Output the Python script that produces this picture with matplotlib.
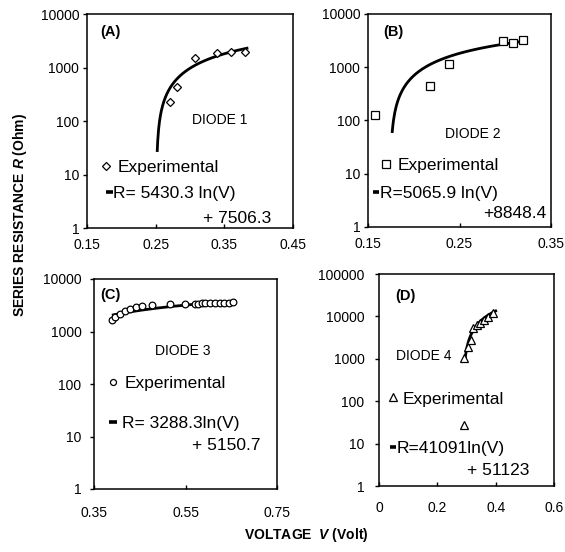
import numpy as np
import matplotlib
matplotlib.use("Agg")
import matplotlib.pyplot as plt
from matplotlib.lines import Line2D

plt.rcParams["font.family"] = ["Liberation Sans", "DejaVu Sans"]
plt.rcParams["mathtext.fontset"] = "custom"
plt.rcParams["mathtext.it"] = "Liberation Sans:italic:bold"
plt.rcParams["mathtext.rm"] = "Liberation Sans:bold"

# measured series resistance vs forward voltage, one set per diode
a_volt = [0.271, 0.281, 0.307, 0.339, 0.360, 0.380]
a_res = [230, 430, 1520, 1900, 1950, 1950]

b_volt = [0.158, 0.218, 0.238, 0.298, 0.308, 0.319]
b_res = [125, 450, 1150, 3150, 2900, 3250]

c_volt = [0.389, 0.396, 0.407, 0.418, 0.429, 0.442, 0.456, 0.476, 0.516, 0.549,
          0.571, 0.578, 0.585, 0.593, 0.604, 0.614, 0.625, 0.634, 0.644, 0.653]
c_res = [1650, 1900, 2150, 2450, 2700, 2900, 3050, 3150, 3300, 3350,
         3400, 3400, 3450, 3450, 3450, 3500, 3500, 3550, 3550, 3600]

d_volt = [0.290, 0.290, 0.306, 0.314, 0.323, 0.335, 0.346, 0.361, 0.375, 0.392]
d_res = [28, 1030, 1930, 2770, 5240, 6270, 6870, 8220, 9830, 12200]

# log trendlines R = k ln(V) + c and the voltage span they are drawn over
fit_k = [5430.3, 5065.9, 3288.3, 41091]
fit_c = [7506.3, 8848.4, 5150.7, 51123]
fit_span = [(0.2523, 0.383), (0.1765, 0.320), (0.392, 0.655), (0.2953, 0.400)]

tags = ["(A)", "(B)", "(C)", "(D)"]
diode_names = ["DIODE 1", "DIODE 2", "DIODE 3", "DIODE 4"]
eq_first = ["R= 5430.3 ln(V)", "R=5065.9 ln(V)", "R= 3288.3ln(V)", "R=41091ln(V)"]
eq_second = ["+ 7506.3", "+8848.4", "+ 5150.7", "+ 51123"]

x_ticks = [[0.15, 0.25, 0.35, 0.45], [0.15, 0.25, 0.35], [0.35, 0.55, 0.75], [0, 0.2, 0.4, 0.6]]
x_ticklabels = [["0.15", "0.25", "0.35", "0.45"], ["0.15", "0.25", "0.35"],
                ["0.35", "0.55", "0.75"], ["0", "0.2", "0.4", "0.6"]]
y_ticks = [[1, 10, 100, 1000, 10000]] * 3 + [[1, 10, 100, 1000, 10000, 100000]]

W, H = 565, 552

# pixel layout of each panel: box (left, top, right, bottom) and text anchors
panels = [
    dict(box=(87, 14, 293, 228), marker="D", ms=4.5, xpad=7, ypad=2.5,
         tag=(100, 31.7), diode=(220, 120), exp=(106, 166, 118),
         dash=(105.5, 112.7, 191.7), eq1=113.3, eq2=(203, 216.7)),
    dict(box=(368, 14, 551, 227), marker="s", ms=6, xpad=7, ypad=2.5,
         tag=(383, 31.7), diode=(472.5, 134), exp=(386, 164, 398),
         dash=(373, 379, 191.7), eq1=380, eq2=(483, 211.7)),
    dict(box=(94, 279, 277, 489), marker="o", ms=4.8, xpad=12, ypad=6,
         tag=(100, 294.5), diode=(182.5, 351), exp=(113, 381.7, 125),
         dash=(109.3, 116.7, 421.7), eq1=121.7, eq2=(192, 443.3)),
    dict(box=(379, 274, 554, 486), marker="^", ms=6, xpad=11, ypad=7.5,
         tag=(395, 296), diode=(423.5, 356), exp=(392.7, 397.3, 403),
         dash=(389.5, 395.5, 446.7), eq1=396.7, eq2=(467, 468.3)),
]
series = [(a_volt, a_res), (b_volt, b_res), (c_volt, c_res), (d_volt, d_res)]

fig = plt.figure(figsize=(W / 100, H / 100), dpi=100)


def to_axes(box, x, y):
    l, t, r, b = box
    return (x - l) / (r - l), (b - y) / (b - t)


LEG_FS = 12.5
for i, p in enumerate(panels):
    l, t, r, b = p["box"]
    ax = fig.add_axes([l / W, 1 - b / H, (r - l) / W, (b - t) / H])
    volt, res = series[i]

    v_fit = np.linspace(fit_span[i][0], fit_span[i][1], 200)
    r_fit = fit_k[i] * np.log(v_fit) + fit_c[i]
    ax.plot(v_fit, r_fit, color="black", lw=2.0, zorder=2)
    ax.plot(volt, res, linestyle="none", marker=p["marker"], ms=p["ms"],
            mfc="white", mec="black", mew=0.9, zorder=3)

    ax.set_yscale("log")
    ax.set_xlim(x_ticks[i][0], x_ticks[i][-1])
    ax.set_ylim(y_ticks[i][0], y_ticks[i][-1])
    ax.set_xticks(x_ticks[i], x_ticklabels[i])
    ax.set_yticks(y_ticks[i], [str(v) for v in y_ticks[i]])
    ax.yaxis.set_minor_locator(matplotlib.ticker.NullLocator())
    ax.tick_params(axis="x", direction="in", length=3, width=1, pad=p["xpad"], labelsize=10)
    ax.tick_params(axis="y", direction="out", length=3, width=1, pad=p["ypad"], labelsize=10)
    for s in ax.spines.values():
        s.set_linewidth(1.1)

    # panel tag and diode name
    tx, ty = to_axes(p["box"], *p["tag"])
    ax.text(tx, ty, tags[i], transform=ax.transAxes, fontsize=10.5, fontweight="bold",
            ha="left", va="center")
    dx, dy = to_axes(p["box"], *p["diode"])
    ax.text(dx, dy, diode_names[i], transform=ax.transAxes, fontsize=10,
            ha="center", va="center")

    # hand-placed legend entries
    mx, my, ex = p["exp"]
    ax.plot(*to_axes(p["box"], mx, my), transform=ax.transAxes, marker=p["marker"],
            ms=p["ms"] * 0.9, mfc="white", mec="black", mew=0.9, clip_on=False)
    ax.text(*to_axes(p["box"], ex, my + 6.3), "Experimental", transform=ax.transAxes,
            fontsize=LEG_FS, ha="left", va="baseline")
    x0, x1, yd = p["dash"]
    (ax0, ay), (ax1, _) = to_axes(p["box"], x0, yd), to_axes(p["box"], x1, yd)
    ax.add_line(Line2D([ax0, ax1], [ay, ay], transform=ax.transAxes, color="black",
                       lw=2.6, solid_capstyle="butt", clip_on=False))
    ax.text(*to_axes(p["box"], p["eq1"], yd + 6.3), eq_first[i], transform=ax.transAxes,
            fontsize=LEG_FS, ha="left", va="baseline")
    e2x, e2y = p["eq2"]
    ax.text(*to_axes(p["box"], e2x, e2y + 6.3), eq_second[i], transform=ax.transAxes,
            fontsize=LEG_FS, ha="left", va="baseline")

fig.text(20 / W, 1 - 214.5 / H, r"SERIES RESISTANCE $R$ (Ohm)", rotation=90,
         fontsize=10, fontweight="bold", ha="center", va="center")
fig.text(306.5 / W, 1 - 535 / H, r"VOLTAGE  $V$ (Volt)", fontsize=10,
         fontweight="bold", ha="center", va="center")

fig.savefig("out.png", dpi=100, facecolor="white")
